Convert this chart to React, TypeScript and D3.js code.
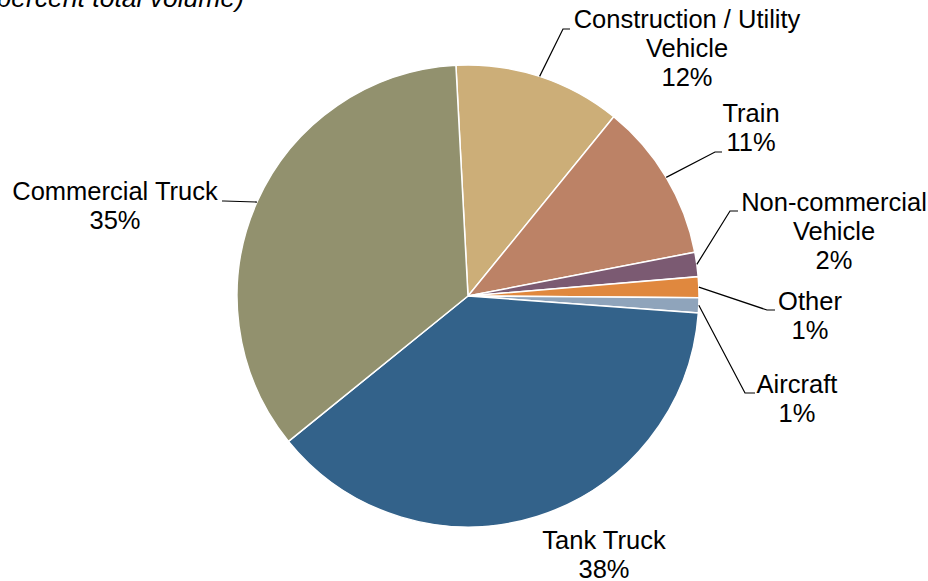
import React from "react";
import * as d3 from "d3";

const categories = [
  "Construction / Utility Vehicle",
  "Train",
  "Non-commercial Vehicle",
  "Other",
  "Aircraft",
  "Tank Truck",
  "Commercial Truck",
];
const values = [11.7, 11.1, 1.7, 1.45, 1.05, 38.0, 35.0];
const labelLines = [
  ["Construction / Utility", "Vehicle"],
  ["Train"],
  ["Non-commercial", "Vehicle"],
  ["Other"],
  ["Aircraft"],
  ["Tank Truck"],
  ["Commercial Truck"],
];
const colors = ["#CCAE78", "#BC8266", "#7B5A72", "#E0883E", "#8FA4BB", "#33628A", "#92916E"];

// layout of labels: text center x, first baseline y, leader elbow and end (null = no leader)
const labelLayout = [
  { x: 687, y: 28, elbow: [563, 29], end: [570, 29] },
  { x: 751, y: 122, elbow: [715, 152], end: [722, 152] },
  { x: 834, y: 211, elbow: [730, 211], end: [738, 211] },
  { x: 810, y: 310, elbow: [767, 310], end: [775, 310] },
  { x: 797, y: 393, elbow: [745, 393], end: [755, 393] },
  { x: 604, y: 549, elbow: null, end: null },
  { x: 115, y: 200, elbow: [224, 201], end: [222, 201] },
];

const W = 928;
const H = 581;
const cx = 468;
const cy = 296;
const R = 231;
const FONT = "'Liberation Sans', Arial, sans-serif";
const LINE_H = 29;

export default function App() {
  const start = (-3 * Math.PI) / 180;
  const pie = d3
    .pie<number>()
    .sort(null)
    .value((d) => d)
    .startAngle(start)
    .endAngle(start + 2 * Math.PI);
  const arcs = pie(values);
  const arc = d3.arc<d3.PieArcDatum<number>>().innerRadius(0).outerRadius(R);
  const edge = d3.arc<d3.PieArcDatum<number>>().innerRadius(R).outerRadius(R);

  return (
    <svg
      width={W}
      height={H}
      style={{ position: "absolute", left: 0, top: 0, background: "#fff" }}
      fontFamily={FONT}
    >
      <text x={244} y={7} textAnchor="end" fontSize={26.5} fontStyle="italic" fill="#000">
        (percent total volume)
      </text>
      <g transform={`translate(${cx},${cy})`}>
        {arcs.map((a, i) => (
          <path key={i} d={arc(a) || ""} fill={colors[i]} stroke="#fff" strokeWidth={1.5} />
        ))}
      </g>
      {arcs.map((a, i) => {
        const L = labelLayout[i];
        if (!L.elbow || !L.end) return null;
        const [px, py] = edge.centroid(a);
        const pts = [
          [cx + px, cy + py],
          L.elbow,
          L.end,
        ];
        return (
          <polyline
            key={"l" + i}
            points={pts.map((p) => p.join(",")).join(" ")}
            fill="none"
            stroke="#000"
            strokeWidth={1.2}
          />
        );
      })}
      {arcs.map((a, i) => {
        const L = labelLayout[i];
        const lines = [...labelLines[i], `${Math.round(values[i])}%`];
        return (
          <text key={"t" + i} textAnchor="middle" fontSize={25.5} fill="#000">
            {lines.map((s, j) => (
              <tspan key={j} x={L.x} y={L.y + j * LINE_H}>
                {s}
              </tspan>
            ))}
          </text>
        );
      })}
    </svg>
  );
}
